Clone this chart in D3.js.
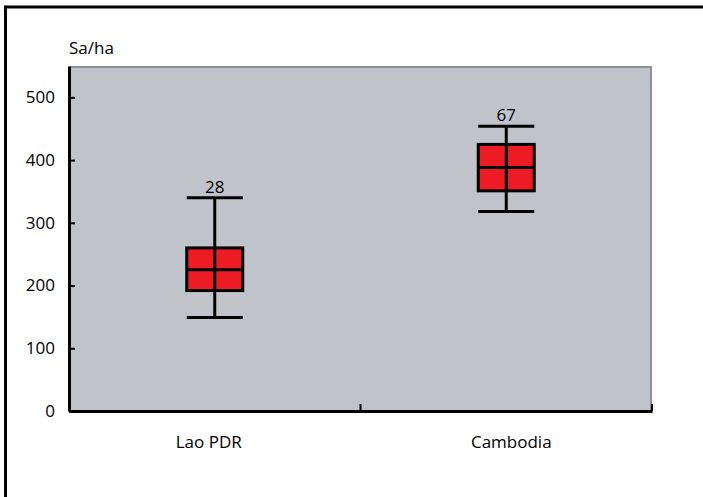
<!DOCTYPE html>
<html>
<head>
<meta charset="utf-8">
<script src="https://cdn.jsdelivr.net/npm/d3@7"></script>
<style>
  body { margin: 0; background: #fff; }
  text { font-family: "Open Sans", "Noto Sans", sans-serif; }
</style>
</head>
<body>
<div id="chart"></div>
<script>
// data
var categories = ["Lao PDR", "Cambodia"];
var counts = [28, 67];
var whiskerLow = [149, 318];
var q1 = [192, 351];
var median = [225, 388];
var q3 = [260, 425];
var whiskerHigh = [340, 454];
var yTicks = [0, 100, 200, 300, 400, 500];

var w = 703, h = 497;
var plotLeft = 69, plotRight = 652, plotTop = 66, plotBottom = 411;
var fs = 17;

var svg = d3.select("#chart").append("svg")
    .attr("width", w)
    .attr("height", h);

// outer frame (top and left only)
svg.append("line").attr("x1", 5.5).attr("x2", w).attr("y1", 7).attr("y2", 7)
    .attr("stroke", "#000").attr("stroke-width", 3);
svg.append("line").attr("x1", 5.5).attr("x2", 5.5).attr("y1", 5.5).attr("y2", h)
    .attr("stroke", "#000").attr("stroke-width", 3);

var xScale = d3.scaleBand()
    .domain(categories)
    .range([plotLeft, plotRight]);

var yScale = d3.scaleLinear()
    .domain([0, 550])
    .range([plotBottom, plotTop]);

// plot background
svg.append("rect")
    .attr("x", plotLeft)
    .attr("y", plotTop)
    .attr("width", plotRight - plotLeft)
    .attr("height", plotBottom - plotTop)
    .attr("fill", "#c0c3ca");
svg.append("path")
    .attr("d", "M" + plotLeft + "," + (plotTop + 1) + "H" + (plotRight - 1) + "V" + plotBottom)
    .attr("fill", "none")
    .attr("stroke", "#8b9098")
    .attr("stroke-width", 2);

// y axis
var yAxis = d3.axisLeft(yScale)
    .tickValues(yTicks)
    .tickSizeInner(-6)
    .tickSizeOuter(0)
    .tickPadding(14);
var gy = svg.append("g")
    .attr("transform", "translate(" + plotLeft + ",0)")
    .call(yAxis);
gy.select(".domain").attr("stroke-width", 3);
gy.selectAll(".tick line").attr("stroke-width", 2);
gy.selectAll(".tick text").attr("font-size", fs).attr("fill", "#000");

// x axis
var xAxis = d3.axisBottom(xScale)
    .tickSize(0)
    .tickPadding(25);
var gx = svg.append("g")
    .attr("transform", "translate(0," + plotBottom + ")")
    .call(xAxis);
gx.select(".domain").attr("stroke-width", 3);
gx.selectAll(".tick text").attr("font-size", fs).attr("fill", "#000")
    .attr("dx", function(d, i) { return i === 0 ? -6 : 5; });

// x tick marks at band edges (middle and end)
svg.selectAll(".xedge")
    .data([xScale(categories[1]), plotRight])
    .enter()
    .append("line")
    .attr("x1", function(d) { return d; })
    .attr("x2", function(d) { return d; })
    .attr("y1", plotBottom)
    .attr("y2", plotBottom - 7)
    .attr("stroke", "#000")
    .attr("stroke-width", 2);

// box plots
var boxW = 56;
var boxes = svg.selectAll(".box")
    .data(categories)
    .enter()
    .append("g")
    .attr("class", "box")
    .attr("transform", function(d) {
        return "translate(" + (xScale(d) + xScale.bandwidth() / 2) + ",0)";
    });

boxes.append("line")
    .attr("x1", 0).attr("x2", 0)
    .attr("y1", function(d, i) { return yScale(whiskerLow[i]); })
    .attr("y2", function(d, i) { return yScale(whiskerHigh[i]); })
    .attr("stroke", "#000").attr("stroke-width", 3);

boxes.selectAll(".cap")
    .data(function(d, i) { return [whiskerLow[i], whiskerHigh[i]]; })
    .enter()
    .append("line")
    .attr("x1", -boxW / 2).attr("x2", boxW / 2)
    .attr("y1", function(v) { return yScale(v); })
    .attr("y2", function(v) { return yScale(v); })
    .attr("stroke", "#000").attr("stroke-width", 3);

boxes.append("rect")
    .attr("x", -boxW / 2)
    .attr("width", boxW)
    .attr("y", function(d, i) { return yScale(q3[i]); })
    .attr("height", function(d, i) { return yScale(q1[i]) - yScale(q3[i]); })
    .attr("fill", "#ed1c24")
    .attr("stroke", "#000")
    .attr("stroke-width", 3);

boxes.append("line")
    .attr("x1", 0).attr("x2", 0)
    .attr("y1", function(d, i) { return yScale(q1[i]); })
    .attr("y2", function(d, i) { return yScale(q3[i]); })
    .attr("stroke", "#000").attr("stroke-width", 3);

boxes.append("line")
    .attr("x1", -boxW / 2).attr("x2", boxW / 2)
    .attr("y1", function(d, i) { return yScale(median[i]); })
    .attr("y2", function(d, i) { return yScale(median[i]); })
    .attr("stroke", "#000").attr("stroke-width", 3);

boxes.append("text")
    .attr("text-anchor", "middle")
    .attr("y", function(d, i) { return yScale(whiskerHigh[i]) - 5; })
    .attr("font-size", fs)
    .attr("fill", "#000")
    .text(function(d, i) { return counts[i]; });

// unit label
svg.append("text")
    .attr("x", plotLeft)
    .attr("y", 54)
    .attr("font-size", fs)
    .attr("fill", "#000")
    .text("Sa/ha");
</script>
</body>
</html>
